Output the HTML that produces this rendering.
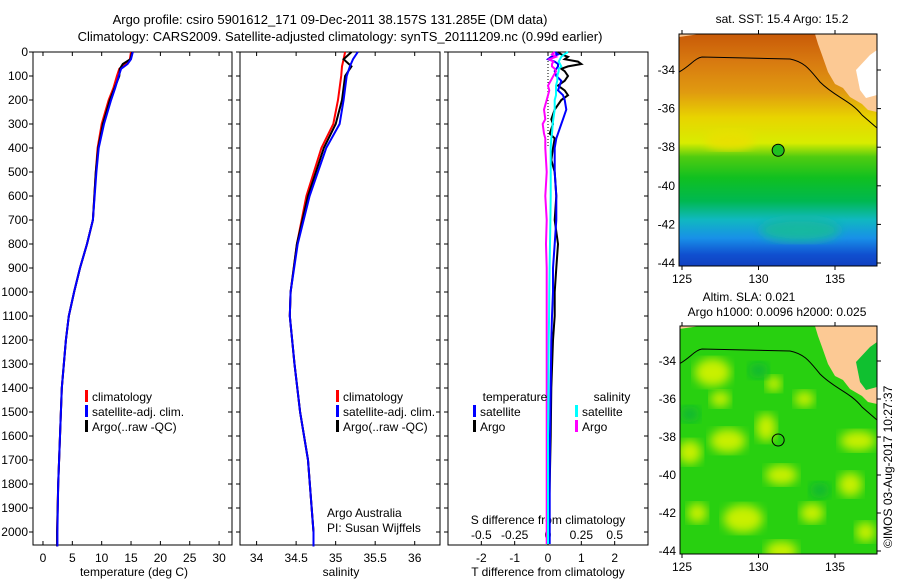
<!DOCTYPE html>
<html><head><meta charset="utf-8"><style>
body{margin:0;background:#fff;}
svg{display:block;font-family:"Liberation Sans",sans-serif;}
</style></head><body>
<svg id="fig" width="900" height="580" viewBox="0 0 900 580" xmlns="http://www.w3.org/2000/svg">
<defs>
<linearGradient id="sstGrad" x1="0" y1="0" x2="0" y2="1">
<stop offset="0" stop-color="#c85a08"/><stop offset="0.12" stop-color="#d87a10"/>
<stop offset="0.25" stop-color="#e09a10"/><stop offset="0.36" stop-color="#e8d400"/>
<stop offset="0.47" stop-color="#d8ec00"/><stop offset="0.53" stop-color="#50cc10"/>
<stop offset="0.62" stop-color="#10c020"/><stop offset="0.72" stop-color="#00b850"/>
<stop offset="0.8" stop-color="#10b8c0"/><stop offset="0.88" stop-color="#1890e8"/>
<stop offset="0.95" stop-color="#1050d0"/><stop offset="1" stop-color="#1040c0"/>
</linearGradient>
<filter id="blur"><feGaussianBlur stdDeviation="5"/></filter>
<clipPath id="m1clip"><rect x="679" y="34" width="198" height="232"/></clipPath>
<clipPath id="m2clip"><rect x="680" y="326" width="197" height="228"/></clipPath>
</defs>
<text x="330" y="24" font-size="13" text-anchor="middle">Argo profile: csiro 5901612_171 09-Dec-2011 38.157S 131.285E (DM data)</text>
<text x="340" y="41" font-size="13" text-anchor="middle">Climatology: CARS2009. Satellite-adjusted climatology: synTS_20111209.nc (0.99d earlier)</text>
<g id="plots"></g>
<g id="maps"></g>
<text transform="translate(892,548) rotate(-90)" font-size="12">©IMOS 03-Aug-2017 10:27:37</text>
</svg>
<script>
// ---- data ----
const depthT = [0,30,50,70,100,150,200,300,400,500,700,800,900,1000,1100,1200,1400,1600,1800,2000,2060];
const tempClim = [15.0,14.8,14.0,13.0,12.6,12.0,11.2,10.0,9.3,9.0,8.5,7.5,6.3,5.3,4.4,3.9,3.2,2.9,2.6,2.4,2.4];
const tempSat  = [15.3,15.0,14.4,13.3,12.9,12.3,11.6,10.4,9.5,9.1,8.5,7.5,6.3,5.3,4.4,3.9,3.2,2.9,2.6,2.45,2.45];
const tempArgo = [15.2,14.9,13.6,13.1,13.0,12.2,11.4,10.2,9.4,9.0,8.5,7.5,6.3,5.3,4.4,3.9,3.2,2.9,2.6,2.4,2.4];
const depthS = [0,30,60,100,200,300,400,600,800,1000,1100,1300,1500,1700,2000,2060];
const salClim = [35.12,35.1,35.08,35.07,35.03,34.97,34.82,34.63,34.51,34.43,34.42,34.48,34.55,34.65,34.72,34.72];
const salSat  = [35.28,35.22,35.18,35.14,35.1,35.05,34.88,34.67,34.52,34.43,34.42,34.48,34.55,34.65,34.72,34.72];
const salArgo = [35.2,35.1,35.2,35.12,35.08,35.0,34.85,34.65,34.51,34.43,34.42,34.48,34.55,34.65,34.72,34.72];
const depthD = [0,10,20,30,40,50,60,70,80,100,120,140,160,180,200,240,280,300,340,360,400,450,500,600,700,800,900,1000,1100,1200,1400,1600,1800,2000,2050];
const dTSat  = [0.2,0.3,0.1,0.0,0.2,0.3,0.3,0.25,0.2,0.25,0.4,0.35,0.3,0.45,0.5,0.55,0.45,0.4,0.3,0.25,0.2,0.2,0.2,0.25,0.25,0.2,0.15,0.15,0.12,0.1,0.08,0.06,0.05,0.05,0.05];
const dTArgo = [0.3,0.4,0.6,0.5,0.9,1.0,0.6,0.4,0.5,0.6,0.5,0.3,0.5,0.6,0.4,0.2,0.1,0.15,0.05,0.2,0.15,0.1,0.2,0.25,0.2,0.3,0.25,0.2,0.2,0.15,0.1,0.08,0.05,0.02,0.02];
const dSSat  = [0.15,0.12,0.1,0.09,0.08,0.09,0.1,0.08,0.08,0.07,0.07,0.06,0.06,0.06,0.05,0.05,0.04,0.035,0.03,0.025,0.02,0.02,0.02,0.02,0.018,0.015,0.012,0.01,0.008,0.005,0.003,0.0,0.0,0.0,0.0];
const dSArgo = [0.05,0.03,0.06,0.01,0.04,0.03,0.03,0.05,0.06,0.04,0.02,0.0,0.01,0.0,-0.01,-0.03,-0.02,-0.04,-0.03,-0.02,-0.02,-0.015,-0.01,-0.02,-0.01,-0.015,-0.01,-0.01,-0.01,-0.01,-0.01,-0.01,-0.01,-0.01,-0.01];
const depthTicks = [0,100,200,300,400,500,600,700,800,900,1000,1100,1200,1300,1400,1500,1600,1700,1800,1900,2000];
const tTicks = [0,5,10,15,20,25,30];
const sTicks = [34,34.5,35,35.5,36];
const tdTicks = [-2,-1,0,1,2];
const sdTicks = [-0.5,-0.25,0,0.25,0.5];
const sdLabels = ["-0.5","-0.25","0","0.25","0.5"];
const lonTicks = [125,130,135];
const latTicks = [-34,-36,-38,-40,-42,-44];
const argoLon = 131.285, argoLat = -38.157;

const NS='http://www.w3.org/2000/svg';
const plots=document.getElementById('plots'), maps=document.getElementById('maps');
function mk(tag,attrs,parent,txt){const e=document.createElementNS(NS,tag);for(const k in attrs)e.setAttribute(k,attrs[k]);if(txt!==undefined)e.textContent=txt;parent.appendChild(e);return e;}
const TOP=52,BOT=545;
const yD=d=>TOP+d*0.24;
const panels=[{x0:33,x1:232,lo:-1.7,hi:32.2,name:'temperature'},{x0:240,x1:440,lo:33.79,hi:36.32,name:'salinity'},{x0:448,x1:648,lo:-3,hi:3,name:'difference'}];
panels.forEach(p=>{p.sx=v=>p.x0+(v-p.lo)/(p.hi-p.lo)*(p.x1-p.x0);
 const r=mk('rect',{x:p.x0,y:TOP,width:p.x1-p.x0,height:BOT-TOP,fill:'none',stroke:'#000','stroke-width':1},plots);
 
 
 depthTicks.forEach(d=>{mk('line',{x1:p.x0-4,x2:p.x0,y1:yD(d),y2:yD(d),stroke:'#000'},plots);mk('line',{x1:p.x1-4,x2:p.x1,y1:yD(d),y2:yD(d),stroke:'#000'},plots);});
});
depthTicks.forEach(d=>{const t=mk('text',{x:28,y:yD(d)+4,'font-size':12,'text-anchor':'end'},plots,String(d));
 
 });
function xticks(p,ticks,labels,y){ticks.forEach((v,i)=>{const x=p.sx(v);
 mk('line',{x1:x,x2:x,y1:BOT,y2:BOT-4,stroke:'#000'},plots);
 mk('line',{x1:x,x2:x,y1:TOP,y2:TOP+4,stroke:'#000'},plots);
 const t=mk('text',{x:x,y:y,'font-size':12,'text-anchor':'middle'},plots,labels?labels[i]:String(v));
 
 });}
xticks(panels[0],tTicks,null,562);
xticks(panels[1],sTicks,null,562);
xticks(panels[2],tdTicks,null,562);
const sdScale=v=>panels[2].sx(v*4);
sdTicks.forEach((v,i)=>{const t=mk('text',{x:sdScale(v),y:539,'font-size':12,'text-anchor':'middle'},plots,sdLabels[i]);
 
 });
function title(x,txt,name,y){const t=mk('text',{x:x,y:y||576,'font-size':12,'text-anchor':'middle'},plots,txt);
 
 }
title(134,'temperature (deg C)','temperature-axis-title');
title(341,'salinity','salinity-axis-title');
title(548,'T difference from climatology','t-diff-axis-title');
title(548,'S difference from climatology','s-diff-axis-title',524);
mk('line',{x1:panels[2].sx(0),x2:panels[2].sx(0),y1:TOP,y2:yD(400),stroke:'#000','stroke-dasharray':'1,2'},plots);
function line(sx,depths,vals,color,name,w){const pts=depths.map((d,i)=>sx(vals[i]).toFixed(1)+','+yD(d).toFixed(1)).join(' ');
 const l=mk('polyline',{points:pts,fill:'none',stroke:color,'stroke-width':w||2},plots);
 
 }
line(panels[0].sx,depthT,tempClim,'#f00','temp-climatology-line');
line(panels[0].sx,depthT,tempArgo,'#000','temp-argo-line');
line(panels[0].sx,depthT,tempSat,'#00f','temp-satellite-line');
line(panels[1].sx,depthS,salClim,'#f00','sal-climatology-line');
line(panels[1].sx,depthS,salArgo,'#000','sal-argo-line');
line(panels[1].sx,depthS,salSat,'#00f','sal-satellite-line');
line(panels[2].sx,depthD,dTArgo,'#000','tdiff-argo-line');
line(panels[2].sx,depthD,dTSat,'#00f','tdiff-satellite-line');
line(sdScale,depthD,dSArgo,'#f0f','sdiff-argo-line');
line(sdScale,depthD,dSSat,'#0ff','sdiff-satellite-line');
function leg(x,y,color,txt,name){mk('rect',{x:x,y:y-9,width:3,height:12,fill:color},plots);
 const t=mk('text',{x:x+7,y:y+2,'font-size':12},plots,txt);
 
 }
[[85,'temp'],[336,'sal']].forEach(([x,n])=>{leg(x,399,'#f00','climatology',n+'-legend-climatology');leg(x,414,'#00f','satellite-adj. clim.',n+'-legend-satellite');leg(x,429,'#000','Argo(..raw -QC)',n+'-legend-argo');});
title(515,'temperature','diff-legend-temperature-header',401);title(612,'salinity','diff-legend-salinity-header',401);
leg(473,414,'#00f','satellite','diff-legend-t-satellite');leg(473,429,'#000','Argo','diff-legend-t-argo');
leg(575,414,'#0ff','satellite','diff-legend-s-satellite');leg(575,429,'#f0f','Argo','diff-legend-s-argo');
const a1=mk('text',{x:327,y:517,'font-size':12},plots,'Argo Australia');

const a2=mk('text',{x:327,y:532,'font-size':12},plots,'PI: Susan Wijffels');


// ---- maps ----
function map(x0,y0,x1,y1,lat34y,lat44y,clip,kind,titleLines){
 const sx=lon=>682+(lon-125)*15.3;
 const sy=lat=>lat34y+(-34-lat)*(lat44y-lat34y)/10;
 const g=mk('g',{'clip-path':'url(#'+clip+')'},maps);
 
 
 if(kind==='sst'){mk('rect',{x:x0,y:y0,width:x1-x0,height:y1-y0,fill:'url(#sstGrad)'},g);
  mk('ellipse',{cx:800,cy:230,rx:40,ry:12,fill:'#18b8a0',filter:'url(#blur)'},g);
  mk('ellipse',{cx:730,cy:140,rx:25,ry:10,fill:'#e8e000',filter:'url(#blur)'},g);}
 else{mk('rect',{x:x0,y:y0,width:x1-x0,height:y1-y0,fill:'#28d010'},g);
  const bl=[[127,-34.6,18,14],[128,-38.2,18,12],[125.5,-38.8,12,12],[130.5,-37.5,10,14],[131.5,-40,16,10],[129,-42.3,20,14],[133.5,-42,12,10],[136.5,-38.2,18,10],[136,-40.5,12,12],[131.5,-44,16,10],[126,-42,10,10],[127.5,-36,10,8],[133,-36,10,8],[131,-35.2,8,8],[137,-43,10,10]];
  bl.forEach(b=>mk('ellipse',{cx:sx(b[0]),cy:sy(b[1]),rx:b[2],ry:b[3],fill:'#c8f000',filter:'url(#blur)'},g));
  [[130,-34.5],[134,-40.8],[125.5,-36.8]].forEach(b=>mk('ellipse',{cx:sx(b[0]),cy:sy(b[1]),rx:10,ry:8,fill:'#10b830',filter:'url(#blur)'},g));}
 const off=y0-34;
 mk('path',{d:`M815,${34+off} L877,${34+off} L877,${112+off} L868,${110+off} L862,${104+off} L850,${97+off} L843,${88+off} L835,${84+off} L828,${72+off} L822,${55+off} L818,${44+off} Z`,fill:'#fcc994'},g);
 mk('path',{d:`M856,${70+off} L870,${55+off} L877,${50+off} L877,${95+off} L866,${98+off} L860,${90+off} Z`,fill:kind==='sst'?'#fff':'#10c030'},g);
 mk('path',{d:`M679,${37+off} L700,${34+off} L679,${34+off} Z`,fill:'#fcc994'},g);
 mk('path',{d:`M679,${72+off} C690,${66+off} 695,${58+off} 702,${57+off} L790,${59+off} C805,${62+off} 810,${70+off} 820,${82+off} C835,${97+off} 850,${100+off} 862,${115+off} L877,${128+off}`,fill:'none',stroke:'#000','stroke-width':1},g);
 mk('rect',{x:x0,y:y0,width:x1-x0,height:y1-y0,fill:'none',stroke:'#000'},maps);
 lonTicks.forEach(l=>{mk('line',{x1:sx(l),x2:sx(l),y1:y1,y2:y1+4,stroke:'#000'},maps);mk('line',{x1:sx(l),x2:sx(l),y1:y0,y2:y0-4,stroke:'#000'},maps);
  const t=mk('text',{x:sx(l),y:y1+17,'font-size':12,'text-anchor':'middle'},maps,String(l));
  });
 latTicks.forEach(l=>{mk('line',{x1:x1,x2:x1+4,y1:sy(l),y2:sy(l),stroke:'#000'},maps);
  const t=mk('text',{x:x0-4,y:sy(l)+4,'font-size':12,'text-anchor':'end'},maps,String(l));
  });
 const c=mk('circle',{cx:sx(argoLon),cy:sy(argoLat),r:6,fill:kind==='sst'?'#20c020':'none',stroke:'#000'},maps);
 
 titleLines.forEach((tl,i)=>{const t=mk('text',{x:tl[1],y:tl[2],'font-size':12,'text-anchor':'middle'},maps,tl[0]);
  });
}
map(679,34,877,266,70,263,'m1clip','sst',[['sat. SST: 15.4 Argo: 15.2',782,23]]);
map(680,326,877,554,361,551,'m2clip','sla',[['Altim. SLA: 0.021',749,301],['Argo h1000: 0.0096 h2000: 0.025',777,316]]);
</script>
</body></html>
